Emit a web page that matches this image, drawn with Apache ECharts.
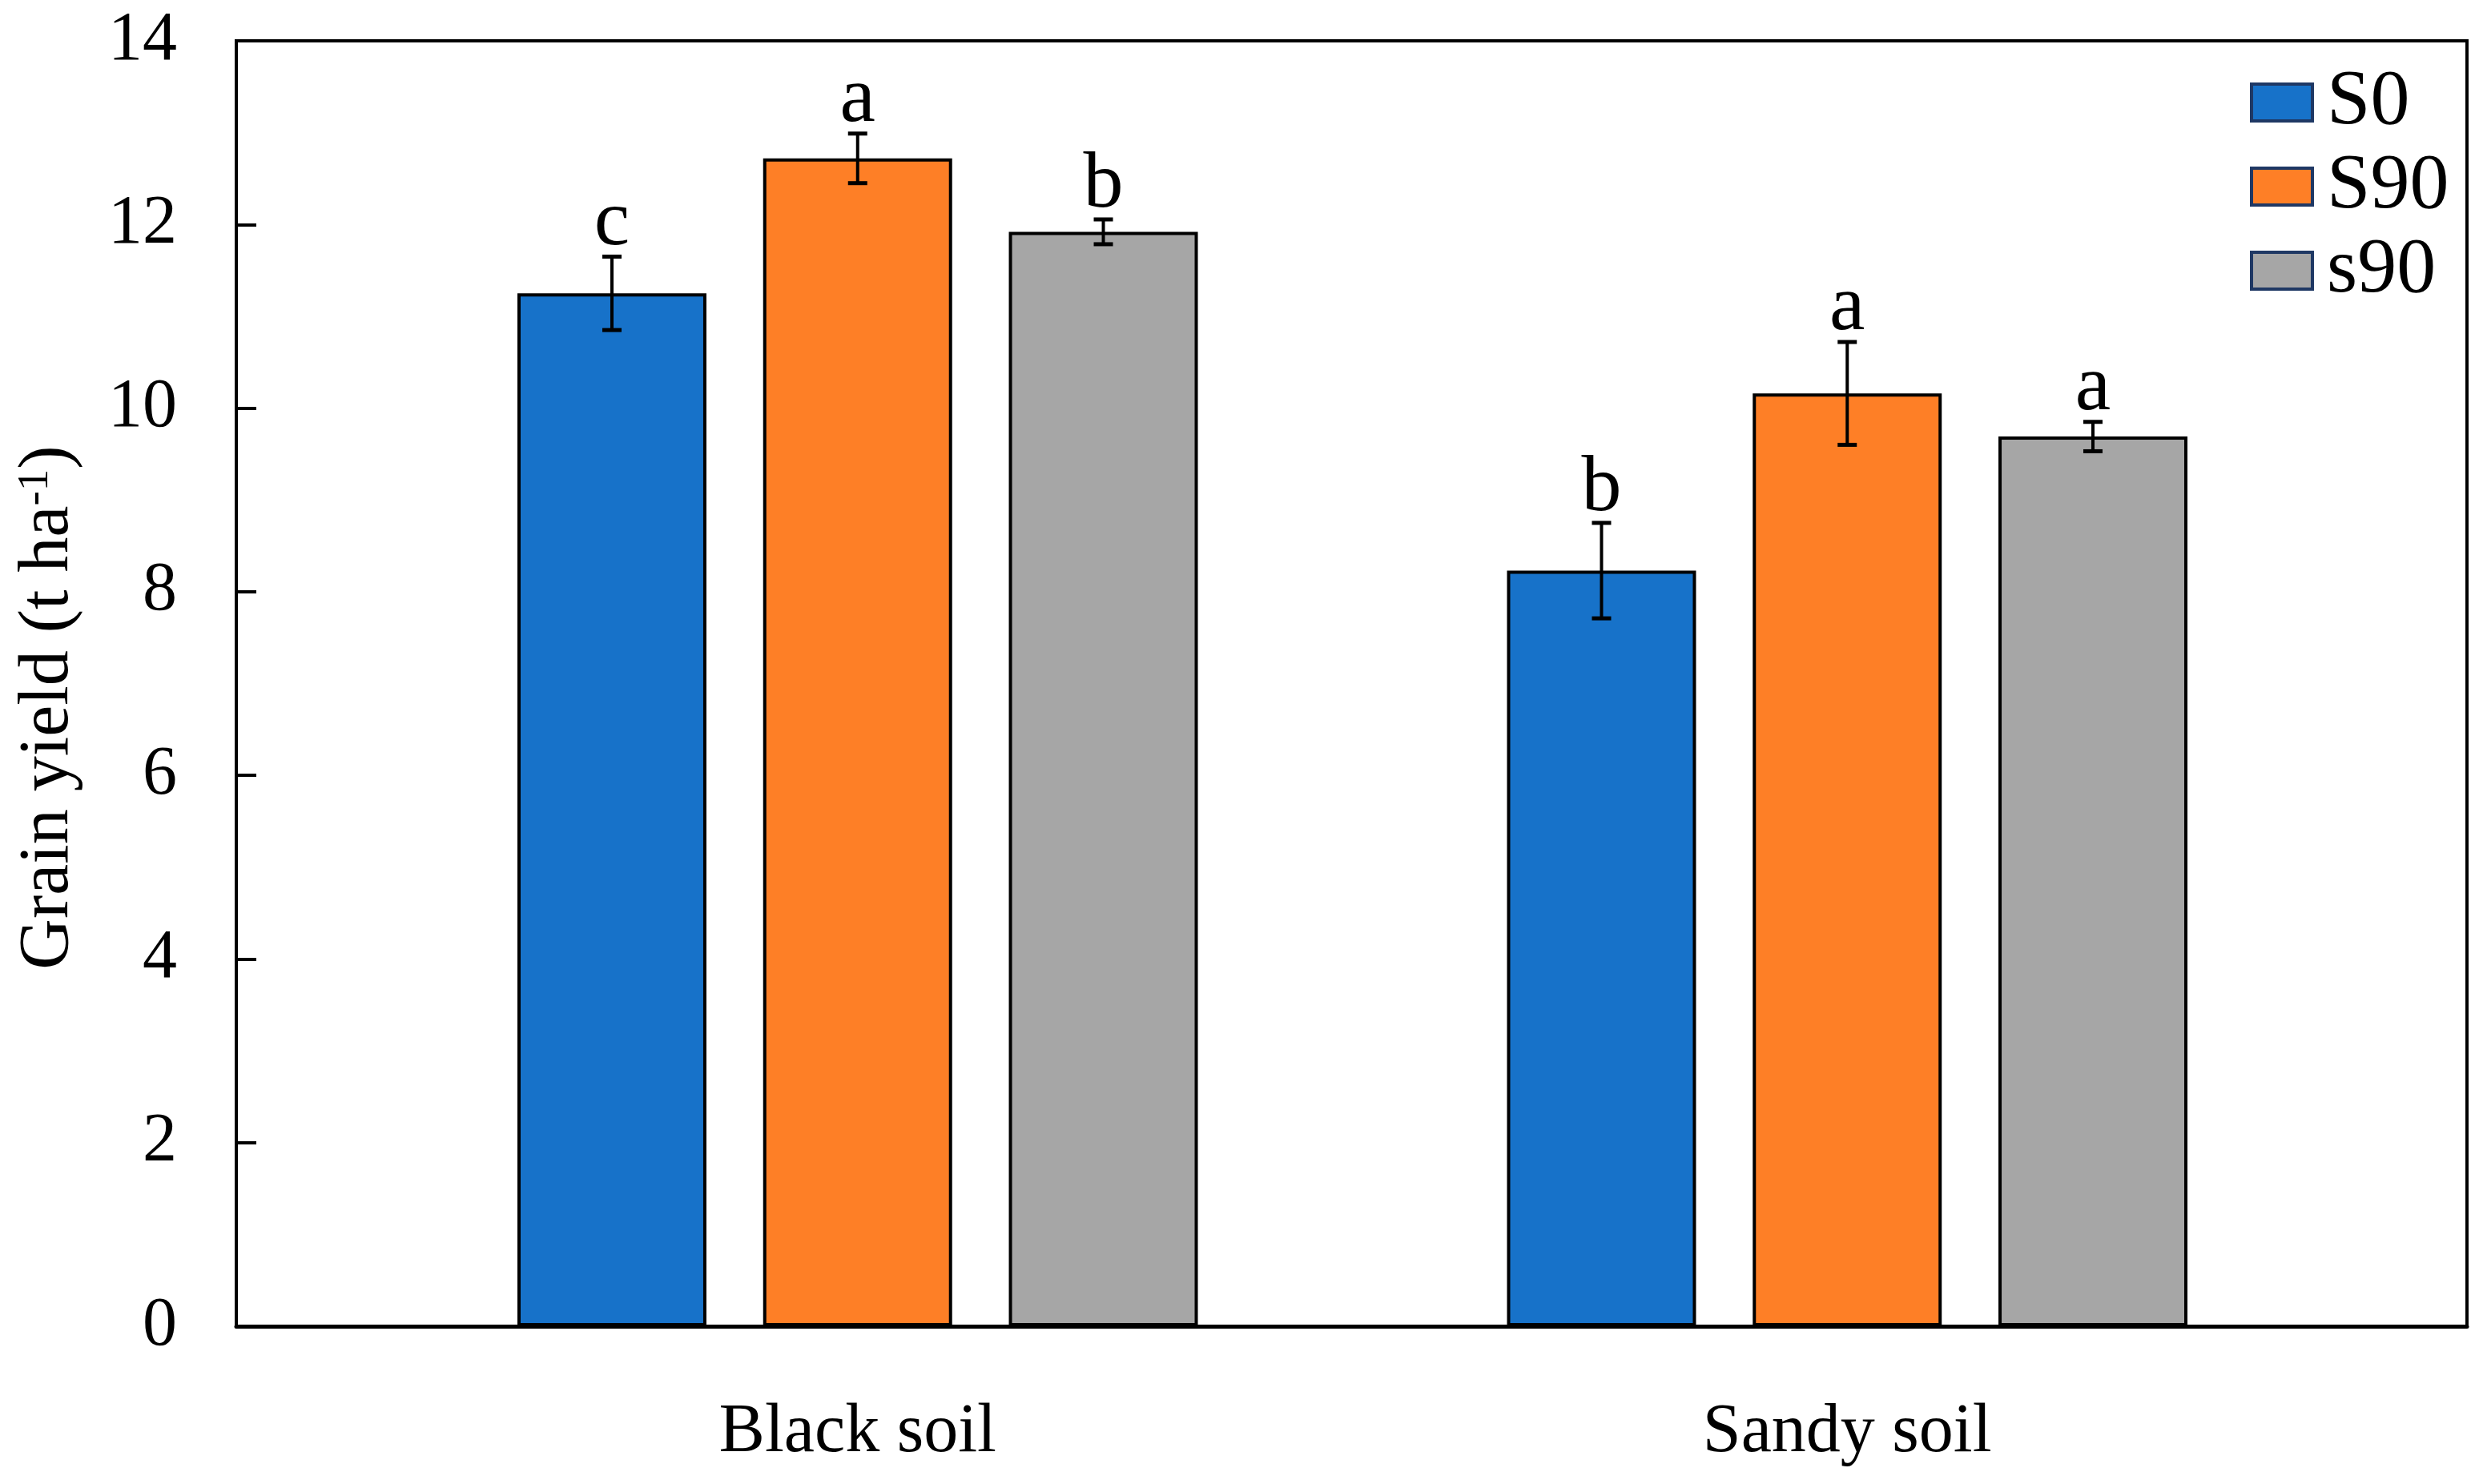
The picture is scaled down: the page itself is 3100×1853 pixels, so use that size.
<!DOCTYPE html>
<html>
<head>
<meta charset="utf-8">
<script src="https://cdn.jsdelivr.net/npm/echarts@6/dist/echarts.min.js"></script>
<style>
html,body{margin:0;padding:0;background:#fff;}
#chart{width:3100px;height:1853px;}
</style>
</head>
<body>
<div id="chart"></div>
<script>
// ---- data ----
const categories = ['Black soil', 'Sandy soil'];
const seriesNames = ['S0', 'S90', 's90'];
const S0 = [11.25, 8.23];
const S0_err = [0.40, 0.52];
const S90 = [12.72, 10.16];
const S90_err = [0.27, 0.56];
const s90 = [11.92, 9.69];
const s90_err = [0.135, 0.16];
const S0_letters = ['c', 'b'];
const S90_letters = ['a', 'a'];
const s90_letters = ['b', 'a'];
const yTicks = [0, 2, 4, 6, 8, 10, 12, 14];

const means = [S0, S90, s90];
const errs = [S0_err, S90_err, s90_err];
const letters = [S0_letters, S90_letters, s90_letters];
const colors = ['#1772C9', '#FE7F26', '#A6A6A6'];

const FONT = '"Liberation Serif", "Times New Roman", serif';
const BAR_FRAC = 0.191;
const BAR_GAP = 0.30;

function makeRender(k) {
  return function (params, api) {
    const ci = api.value(0), m = api.value(1), e = api.value(2);
    const band = api.size([1, 0])[0];
    const bw = band * BAR_FRAC;
    const step = bw * (1 + BAR_GAP);
    const c = api.coord([ci, m]);
    const x = c[0] + (k - 1) * step;
    const yt = api.coord([ci, m + e])[1];
    const yb = api.coord([ci, m - e])[1];
    const cap = 12;
    return {
      type: 'group',
      children: [
        { type: 'line', shape: { x1: x, y1: yt, x2: x, y2: yb }, style: { stroke: '#000', lineWidth: 4 } },
        { type: 'line', shape: { x1: x - cap, y1: yt, x2: x + cap, y2: yt }, style: { stroke: '#000', lineWidth: 5 } },
        { type: 'line', shape: { x1: x - cap, y1: yb, x2: x + cap, y2: yb }, style: { stroke: '#000', lineWidth: 5 } },
        { type: 'text', x: x, y: yt + 8,
          style: { text: letters[k][params.dataIndex], fontFamily: FONT, fontSize: 100,
                   textAlign: 'center', textVerticalAlign: 'bottom', fill: '#000' } }
      ]
    };
  };
}

const series = [];
for (let k = 0; k < 3; k++) {
  series.push({
    name: seriesNames[k], type: 'bar', xAxisIndex: 1, yAxisIndex: 1,
    data: means[k], barWidth: (BAR_FRAC * 100) + '%', barGap: (BAR_GAP * 100) + '%',
    itemStyle: { color: colors[k], borderColor: '#000', borderWidth: 4 },
    z: 2
  });
}
for (let k = 0; k < 3; k++) {
  series.push({
    type: 'custom', xAxisIndex: 1, yAxisIndex: 1,
    data: means[k].map((v, i) => [i, v, errs[k][i]]),
    renderItem: makeRender(k), z: 5, silent: true
  });
}

const chart = echarts.init(document.getElementById('chart'));
chart.setOption({
  animation: false,
  backgroundColor: '#fff',
  legend: {
    data: seriesNames, orient: 'vertical', left: 2804, top: 74,
    icon: 'rect', itemWidth: 76, itemHeight: 46, itemGap: 7,
    itemStyle: { borderColor: '#1F3864', borderWidth: 4 },
    textStyle: { fontFamily: FONT, fontSize: 98, lineHeight: 98, color: '#000', padding: [0, 0, 0, 13] }
  },
  grid: [
    { left: 295, right: 20, top: 51, bottom: 197, show: true, borderColor: '#000', borderWidth: 4, containLabel: false },
    { left: 453, right: 176, top: 51, bottom: 197, containLabel: false }
  ],
  xAxis: [
    { type: 'value', gridIndex: 0, min: 0, max: 1, axisLabel: { show: false }, axisTick: { show: false },
      splitLine: { show: false }, axisLine: { show: true, lineStyle: { color: '#000', width: 5 } }, z: 10 },
    { type: 'category', gridIndex: 1, data: categories,
      axisLine: { show: false }, axisTick: { show: false },
      axisLabel: { fontFamily: FONT, fontSize: 86, color: '#000', margin: 90 } }
  ],
  yAxis: [
    { type: 'value', gridIndex: 0, min: yTicks[0], max: yTicks[yTicks.length - 1], interval: 2,
      axisLine: { show: true, lineStyle: { color: '#000', width: 4 } },
      axisTick: { show: true, inside: true, length: 25, lineStyle: { color: '#000', width: 4 } },
      splitLine: { show: false },
      axisLabel: { fontFamily: FONT, fontSize: 86, color: '#000', margin: 74 },
      name: '{m|Grain yield (t ha}{s|-1}{m|)}',
      nameLocation: 'middle', nameGap: 190, nameRotate: 90,
      nameTextStyle: {
        padding: [0, 60, 0, 0],
        rich: {
          m: { fontFamily: FONT, fontSize: 88, lineHeight: 88, color: '#000' },
          s: { fontFamily: FONT, fontSize: 55, lineHeight: 55, color: '#000', verticalAlign: 'top' }
        }
      }
    },
    { type: 'value', gridIndex: 1, min: yTicks[0], max: yTicks[yTicks.length - 1], interval: 2, show: false,
      splitLine: { show: false } }
  ],
  series: series
});
</script>
</body>
</html>
